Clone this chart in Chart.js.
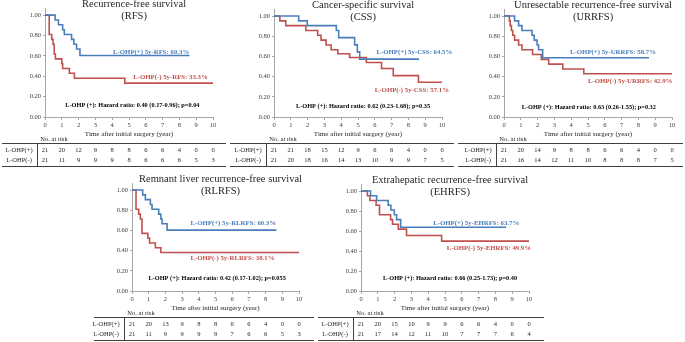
<!DOCTYPE html>
<html>
<head>
<meta charset="utf-8">
<script src="https://cdn.jsdelivr.net/npm/chart.js@4.4.0/dist/chart.umd.min.js"></script>
<style>
  body { margin: 0; background: #fff; width: 685px; height: 342px; overflow: hidden; position: relative; }
  .panel { position: absolute; }
  canvas { display: block; }
</style>
</head>
<body>
<div class="panel" style="left:0px;top:0px"><canvas id="c1" width="228" height="170"></canvas></div>
<div class="panel" style="left:228px;top:0px"><canvas id="c2" width="228" height="170"></canvas></div>
<div class="panel" style="left:456px;top:0px"><canvas id="c3" width="229" height="170"></canvas></div>
<div class="panel" style="left:92px;top:172px"><canvas id="c4" width="224" height="170"></canvas></div>
<div class="panel" style="left:316px;top:172px"><canvas id="c5" width="230" height="170"></canvas></div>
<script>
const yearTicks = [0, 1, 2, 3, 4, 5, 6, 7, 8, 9, 10];
const survTicks = [0, 0.2, 0.4, 0.6, 0.8, 1.0];
const groupNames = ['L-OHP(+)', 'L-OHP(-)'];

// Recurrence-free survival (RFS)
const rfsPlusTime  = [0, 0.6, 0.8, 1.05, 1.15, 1.58, 1.72, 1.88, 2.08, 8.6];
const rfsPlusSurv  = [1, 0.952, 0.905, 0.857, 0.81, 0.762, 0.714, 0.667, 0.603, 0.603];
const rfsMinusTime = [0, 0.25, 0.4, 0.48, 0.55, 0.62, 1.0, 1.05, 1.45, 1.75, 4.75, 10];
const rfsMinusSurv = [1, 0.81, 0.762, 0.714, 0.619, 0.571, 0.524, 0.476, 0.429, 0.381, 0.333, 0.333];
const rfsRiskPlus  = [21, 20, 12, 9, 8, 8, 6, 6, 4, 0, 0];
const rfsRiskMinus = [21, 11, 9, 9, 9, 8, 6, 6, 6, 5, 3];

// Cancer-specific survival (CSS)
const cssPlusTime  = [0, 1.47, 1.98, 3.71, 3.85, 4.8, 4.96, 5.1, 8.63];
const cssPlusSurv  = [1, 0.952, 0.905, 0.857, 0.786, 0.715, 0.645, 0.573, 0.573];
const cssMinusTime = [0, 0.35, 0.7, 1.9, 2.6, 2.8, 3.1, 3.4, 3.8, 4.5, 5.5, 6.4, 7.1, 8.6, 10];
const cssMinusSurv = [1, 0.952, 0.905, 0.857, 0.81, 0.762, 0.714, 0.667, 0.627, 0.59, 0.54, 0.48, 0.41, 0.345, 0.345];
const cssRiskPlus  = [21, 21, 18, 15, 12, 9, 6, 6, 4, 0, 0];
const cssRiskMinus = [21, 20, 18, 16, 14, 13, 10, 9, 9, 7, 5];

// Unresectable recurrence-free survival (URRFS)
const urrfsPlusTime  = [0, 0.63, 0.87, 1.07, 1.67, 1.8, 1.97, 2.06, 2.3, 8.63];
const urrfsPlusSurv  = [1, 0.952, 0.905, 0.857, 0.81, 0.762, 0.714, 0.667, 0.587, 0.587];
const urrfsMinusTime = [0, 0.32, 0.37, 0.44, 0.52, 0.63, 0.87, 1.07, 1.7, 2.22, 2.66, 3.5, 4.75, 10];
const urrfsMinusSurv = [1, 0.952, 0.905, 0.857, 0.81, 0.762, 0.714, 0.667, 0.619, 0.571, 0.524, 0.476, 0.429, 0.429];
const urrfsRiskPlus  = [21, 20, 14, 9, 8, 8, 6, 6, 4, 0, 0];
const urrfsRiskMinus = [21, 16, 14, 12, 11, 10, 8, 8, 8, 7, 5];

// Remnant liver recurrence-free survival (RLRFS)
const rlrfsPlusTime  = [0, 0.64, 0.8, 1.1, 1.2, 1.6, 1.73, 1.8, 2.1, 8.65];
const rlrfsPlusSurv  = [1, 0.952, 0.905, 0.857, 0.81, 0.762, 0.714, 0.667, 0.603, 0.603];
const rlrfsMinusTime = [0, 0.24, 0.4, 0.5, 0.6, 0.95, 1.05, 1.4, 1.73, 10];
const rlrfsMinusSurv = [1, 0.81, 0.762, 0.714, 0.571, 0.524, 0.476, 0.429, 0.381, 0.381];
const rlrfsRiskPlus  = [21, 20, 13, 9, 8, 8, 6, 6, 4, 0, 0];
const rlrfsRiskMinus = [21, 11, 9, 9, 9, 9, 7, 6, 6, 5, 3];

// Extrahepatic recurrence-free survival (EHRFS)
const ehrfsPlusTime  = [0, 0.57, 0.93, 1.62, 1.78, 1.98, 2.12, 2.36, 8.65];
const ehrfsPlusSurv  = [1, 0.952, 0.905, 0.857, 0.81, 0.762, 0.714, 0.637, 0.637];
const ehrfsMinusTime = [0, 0.38, 0.53, 0.9, 1.1, 1.76, 1.88, 2.22, 2.71, 4.8, 10];
const ehrfsMinusSurv = [1, 0.952, 0.905, 0.857, 0.762, 0.714, 0.667, 0.619, 0.555, 0.499, 0.499];
const ehrfsRiskPlus  = [21, 20, 15, 10, 9, 9, 6, 6, 4, 0, 0];
const ehrfsRiskMinus = [21, 17, 14, 12, 11, 10, 7, 7, 7, 6, 4];

const BLUE = '#4a7ebb';
const RED = '#c0504d';
const SERIF = '"Liberation Serif", "DejaVu Serif", serif';

const panels = [
  { canvas: 'c1', title: ['Recurrence-free survival', '(RFS)'],
    plus: [rfsPlusTime, rfsPlusSurv], minus: [rfsMinusTime, rfsMinusSurv],
    risk: [rfsRiskPlus, rfsRiskMinus],
    plusLabel: 'L-OHP(+) 5y-RFS: 60.3%', minusLabel: 'L-OHP(-) 5y-RFS: 33.3%',
    hr: 'L-OHP (+): Hazard ratio: 0.40 (0.17-0.96); p=0.04',
    plusPos: [4.05, 0.64], minusPos: [5.25, 0.39], hrPos: [5.2, 0.11],
    yw: 45, pad: { left: 0, right: 15, top: 8, bottom: 32 } },
  { canvas: 'c2', title: ['Cancer-specific survival', '(CSS)'],
    plus: [cssPlusTime, cssPlusSurv], minus: [cssMinusTime, cssMinusSurv],
    risk: [cssRiskPlus, cssRiskMinus],
    plusLabel: 'L-OHP(+) 5y-CSS: 64.5%', minusLabel: 'L-OHP(-) 5y-CSS: 57.1%',
    hr: 'L-OHP (+): Hazard ratio: 0.62 (0.23-1.68); p=0.35',
    plusPos: [6.1, 0.64], minusPos: [6.0, 0.27], hrPos: [5.3, 0.11],
    yw: 46, pad: { left: 0, right: 14, top: 9, bottom: 32 } },
  { canvas: 'c3', title: ['Unresectable recurrence-free survival', '(URRFS)'],
    plus: [urrfsPlusTime, urrfsPlusSurv], minus: [urrfsMinusTime, urrfsMinusSurv],
    risk: [urrfsRiskPlus, urrfsRiskMinus],
    plusLabel: 'L-OHP(+) 5y-URRFS: 58.7%', minusLabel: 'L-OHP(-) 5y-URRFS: 42.9%',
    hr: 'L-OHP (+): Hazard ratio: 0.63 (0.26-1.55); p=0.32',
    plusPos: [3.93, 0.64], minusPos: [5.0, 0.35], hrPos: [5.05, 0.10],
    yw: 48, pad: { left: 0, right: 13, top: 9, bottom: 32 } },
  { canvas: 'c4', title: ['Remnant liver recurrence-free survival', '(RLRFS)'],
    plus: [rlrfsPlusTime, rlrfsPlusSurv], minus: [rlrfsMinusTime, rlrfsMinusSurv],
    risk: [rlrfsRiskPlus, rlrfsRiskMinus],
    plusLabel: 'L-OHP(+) 5y-RLRFS: 60.3%', minusLabel: 'L-OHP(-) 5y-RLRFS: 38.1%',
    hr: 'L-OHP (+): Hazard ratio: 0.42 (0.17-1.02); p=0.055',
    plusPos: [3.5, 0.67], minusPos: [3.5, 0.32], hrPos: [5.1, 0.13],
    yw: 40, pad: { left: 0, right: 17, top: 11, bottom: 30 } },
  { canvas: 'c5', title: ['Extrahepatic recurrence-free survival', '(EHRFS)'],
    plus: [ehrfsPlusTime, ehrfsPlusSurv], minus: [ehrfsMinusTime, ehrfsMinusSurv],
    risk: [ehrfsRiskPlus, ehrfsRiskMinus],
    plusLabel: 'L-OHP(+) 5y-EHRFS: 63.7%', minusLabel: 'L-OHP(-) 5y-EHRFS: 49.9%',
    hr: 'L-OHP (+): Hazard ratio: 0.66 (0.25-1.73); p=0.40',
    plusPos: [4.3, 0.68], minusPos: [5.1, 0.43], hrPos: [5.3, 0.13],
    yw: 45, pad: { left: 0, right: 17, top: 12, bottom: 30 } }
];

function toPoints(times, surv) {
  return times.map((t, i) => ({ x: t, y: surv[i] }));
}

// titles, group labels, HR text and the number-at-risk table
function makeOverlay(p) {
  return {
    id: 'kmOverlay',
    afterDraw(chart) {
      const ctx = chart.ctx;
      const xs = chart.scales.x, ys = chart.scales.y, area = chart.chartArea;
      ctx.save();
      ctx.textBaseline = 'middle';

      ctx.fillStyle = '#262626';
      ctx.font = '10.5px ' + SERIF;
      ctx.textAlign = 'center';
      const tx = xs.getPixelForValue(5.3), ty = ys.getPixelForValue(1);
      ctx.fillText(p.title[0], tx, ty - 11);
      ctx.fillText(p.title[1], tx, ty + 1);

      ctx.font = 'bold 6.8px ' + SERIF;
      ctx.textAlign = 'left';
      ctx.fillStyle = BLUE;
      ctx.fillText(p.plusLabel, xs.getPixelForValue(p.plusPos[0]), ys.getPixelForValue(p.plusPos[1]));
      ctx.fillStyle = RED;
      ctx.fillText(p.minusLabel, xs.getPixelForValue(p.minusPos[0]), ys.getPixelForValue(p.minusPos[1]));

      ctx.fillStyle = '#000';
      ctx.font = 'bold 6.3px ' + SERIF;
      ctx.textAlign = 'center';
      ctx.fillText(p.hr, xs.getPixelForValue(p.hrPos[0]), ys.getPixelForValue(p.hrPos[1]));

      // risk table
      const base = area.bottom;
      ctx.strokeStyle = '#404040';
      ctx.lineWidth = 1;
      ctx.beginPath();
      ctx.moveTo(2, base + 26.5); ctx.lineTo(chart.width - 2, base + 26.5);
      ctx.moveTo(2, base + 49.5); ctx.lineTo(chart.width - 2, base + 49.5);
      ctx.moveTo(area.left - 7.5, base + 27); ctx.lineTo(area.left - 7.5, base + 49);
      ctx.stroke();

      ctx.fillStyle = '#262626';
      ctx.font = '6.5px ' + SERIF;
      ctx.textAlign = 'center';
      ctx.fillText('No. at risk', area.left + 9, base + 22);
      p.risk.forEach((row, r) => {
        const ry = base + 33 + r * 10;
        ctx.fillText(groupNames[r], area.left - 26, ry);
        yearTicks.forEach((yr, i) => {
          ctx.fillText(String(row[i]), xs.getPixelForValue(yr), ry);
        });
      });
      ctx.restore();
    }
  };
}

panels.forEach(p => {
  new Chart(document.getElementById(p.canvas), {
    type: 'line',
    data: {
      datasets: [
        { label: groupNames[0], data: toPoints(p.plus[0], p.plus[1]), borderColor: BLUE,
          borderWidth: 1.6, pointRadius: 0, stepped: true, fill: false },
        { label: groupNames[1], data: toPoints(p.minus[0], p.minus[1]), borderColor: RED,
          borderWidth: 1.6, pointRadius: 0, stepped: true, fill: false }
      ]
    },
    options: {
      responsive: false,
      animation: false,
      layout: { padding: p.pad },
      plugins: { legend: { display: false }, tooltip: { enabled: false } },
      scales: {
        x: {
          type: 'linear', min: 0, max: 10,
          afterBuildTicks: s => { s.ticks = yearTicks.map(v => ({ value: v })); },
          afterFit: s => { s.height = 21; },
          grid: { display: true, drawOnChartArea: false, drawTicks: true, tickLength: 3, color: '#a6a6a6' },
          border: { display: true, color: '#a6a6a6', width: 1 },
          ticks: { font: { family: SERIF, size: 6.5 }, color: '#404040', padding: 1, maxRotation: 0, autoSkip: false },
          title: { display: true, text: 'Time after initial surgery (year)', color: '#262626',
                   font: { family: SERIF, size: 7 }, padding: 0 }
        },
        y: {
          type: 'linear', min: 0, max: 1.07,
          afterBuildTicks: s => { s.ticks = survTicks.map(v => ({ value: v })); },
          afterFit: s => { s.width = p.yw; },
          grid: { display: true, drawOnChartArea: false, drawTicks: true, tickLength: 2, color: '#a6a6a6' },
          border: { display: true, color: '#a6a6a6', width: 1 },
          ticks: { font: { family: SERIF, size: 6.5 }, color: '#404040', padding: 2,
                   callback: v => Number(v).toFixed(2) }
        }
      }
    },
    plugins: [makeOverlay(p)]
  });
});
</script>
</body>
</html>
